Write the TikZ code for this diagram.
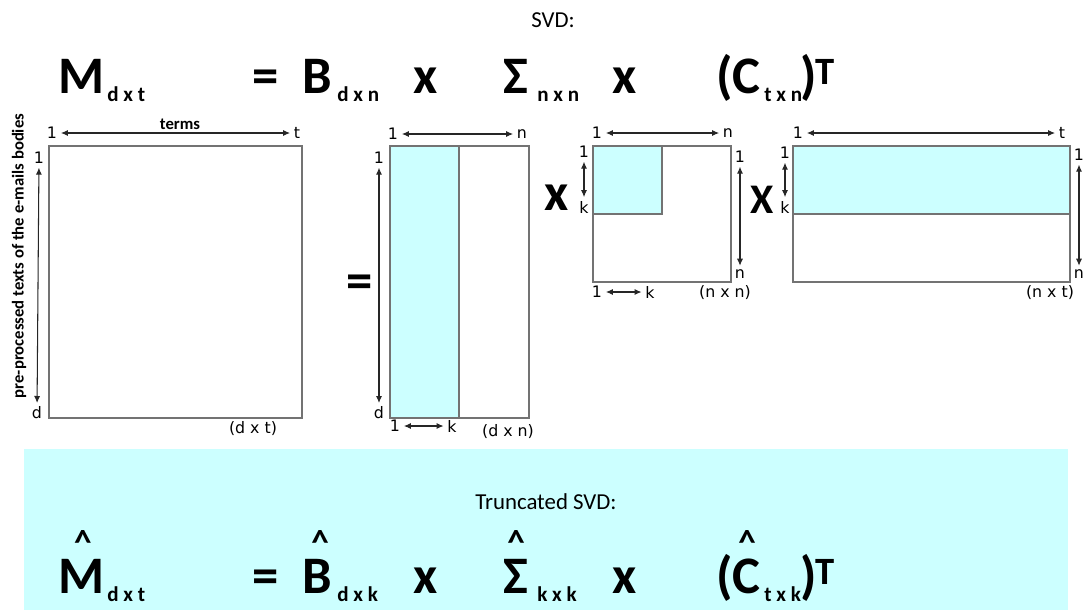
\documentclass[tikz,border=0pt]{standalone}
\usepackage{fontspec}
\setmainfont{Carlito}
\newfontfamily\numfont{DejaVu Sans}
\usetikzlibrary{arrows.meta}
\definecolor{keptcyan}{HTML}{CCFFFF}
\tikzset{
  big/.style={font=\bfseries\fontsize{30}{30}\selectfont, inner sep=0pt, anchor=base west},
  sub/.style={font=\bfseries\fontsize{12}{12}\selectfont, inner sep=0pt, anchor=base west},
  sup/.style={font=\bfseries\fontsize{22}{22}\selectfont, inner sep=0pt, anchor=base west},
  hat/.style={font=\bfseries\fontsize{20}{20}\selectfont, inner sep=0pt, anchor=north},
  times/.style={font=\bfseries\fontsize{30}{30}\selectfont, inner sep=0pt},
  lbl/.style={font=\numfont\fontsize{9}{9}\selectfont, inner sep=1pt},
  dim/.style={draw=black!85, line width=0.6pt, shorten <=1pt, shorten >=1pt,
    {Latex[length=4pt,width=3.5pt]}-{Latex[length=4pt,width=3.5pt]}},
  mat/.style={draw=black!55, line width=0.7pt},
  kept/.style={fill=keptcyan, draw=black!55, line width=0.7pt},
}
\begin{document}
\begin{tikzpicture}[x=0.02cm, y=-0.02cm]
\useasboundingbox (0,0) rectangle (1086,610);
\fill[keptcyan] (24,449) rectangle (1068,610);

% full svd
\node (svd) at (553,20) {\fontsize{13}{13}\selectfont SVD:};
\node[big] (fM) at (58,93) {M};
\node[sub] (fMs) at (107,101) {d x t};
\node[big] (feq) at (252,93) {=};
\node[big] (fB) at (302,93) {B};
\node[sub] (fBs) at (337,101) {d x n};
\node[big] (fx1) at (413,93) {x};
\node[big] (fS) at (503,93) {Σ};
\node[sub] (fSs) at (537,101) {n x n};
\node[big] (fx2) at (612,93) {x};
\node[big] (fC) at (716,93) {(C};
\node[sub] (fCs) at (764,101) {t x n};
\node[big] (fCp) at (800,93) {)};
\node[sup] (fT) at (815,84) {T};

% d x t matrix
\draw[mat] (49,146) rectangle (302,418);
\node[lbl] (m1a) at (52,133) {1};
\node[lbl] (mt) at (297,133) {t};
\draw[dim] (m1a) -- (mt);
\node[font=\bfseries\fontsize{9.5}{9.5}\selectfont] (terms) at (180,124) {terms};
\node[lbl] (m1b) at (39,158) {1};
\node[lbl] (md) at (37,413) {d};
\draw[dim] (m1b) -- (md);
\node[rotate=90, font=\bfseries\fontsize{9.5}{9.5}\selectfont] (docs) at (19,256)
  {pre-processed texts of the e-mails bodies};
\node[lbl] (msize) at (253,429) {(d x t)};

\node[times] (eq) at (360,287) {=};

% d x n matrix
\draw[kept] (390,146) rectangle (459,418);
\draw[mat] (390,146) rectangle (529,418);
\node[lbl] (b1a) at (393,134) {1};
\node[lbl] (bn) at (522,134) {n};
\draw[dim] (b1a) -- (bn);
\node[lbl] (b1b) at (379,158) {1};
\node[lbl] (bd) at (379,413) {d};
\draw[dim] (b1b) -- (bd);
\node[lbl] (b1c) at (395,426) {1};
\node[lbl] (bk) at (452,426) {k};
\draw[dim] (b1c) -- (bk);
\node[lbl] (bsize) at (508,432) {(d x n)};

\node[times] (x1) at (557,198) {x};

% n x n matrix
\draw[kept] (593,146) rectangle (662,214);
\draw[mat] (593,146) rectangle (731,282);
\node[lbl] (s1a) at (597,133) {1};
\node[lbl] (sn) at (728,133) {n};
\draw[dim] (s1a) -- (sn);
\node[lbl] (s1b) at (584,152) {1};
\node[lbl] (sk) at (584,207) {k};
\draw[dim] (s1b) -- (sk);
\node[lbl] (s1c) at (740,157) {1};
\node[lbl] (sn2) at (740,274) {n};
\draw[dim] (s1c) -- (sn2);
\node[lbl] (s1d) at (597,292) {1};
\node[lbl] (sk2) at (650,292) {k};
\draw[dim] (s1d) -- (sk2);
\node[lbl] (ssize) at (725,293) {(n x n)};

\node[times, font=\bfseries\fontsize{24}{24}\selectfont] (x2) at (762,200) {X};

% n x t matrix
\draw[kept] (793,146) rectangle (1070,214);
\draw[mat] (793,146) rectangle (1070,282);
\node[lbl] (c1a) at (798,133) {1};
\node[lbl] (ct) at (1062,133) {t};
\draw[dim] (c1a) -- (ct);
\node[lbl] (c1b) at (785,153) {1};
\node[lbl] (ck) at (785,207) {k};
\draw[dim] (c1b) -- (ck);
\node[lbl] (c1c) at (1079,155) {1};
\node[lbl] (cn) at (1079,274) {n};
\draw[dim] (c1c) -- (cn);
\node[lbl] (csize) at (1050,293) {(n x t)};

% truncated svd
\node (tsvd) at (546,502) {\fontsize{13}{13}\selectfont Truncated SVD:};
\node[big] (tM) at (58,593) {M};
\node[sub] (tMs) at (107,601) {d x t};
\node[big] (teq) at (252,593) {=};
\node[big] (tB) at (302,593) {B};
\node[sub] (tBs) at (337,601) {d x k};
\node[big] (tx1) at (413,593) {x};
\node[big] (tS) at (503,593) {Σ};
\node[sub] (tSs) at (537,601) {k x k};
\node[big] (tx2) at (612,593) {x};
\node[big] (tC) at (716,593) {(C};
\node[sub] (tCs) at (764,601) {t x k};
\node[big] (tCp) at (800,593) {)};
\node[sup] (tT) at (815,584) {T};
\node[hat] (hM) at (83,530) {\textasciicircum};
\node[hat] (hB) at (320,530) {\textasciicircum};
\node[hat] (hS) at (516,530) {\textasciicircum};
\node[hat] (hC) at (747,530) {\textasciicircum};
\end{tikzpicture}
\end{document}
